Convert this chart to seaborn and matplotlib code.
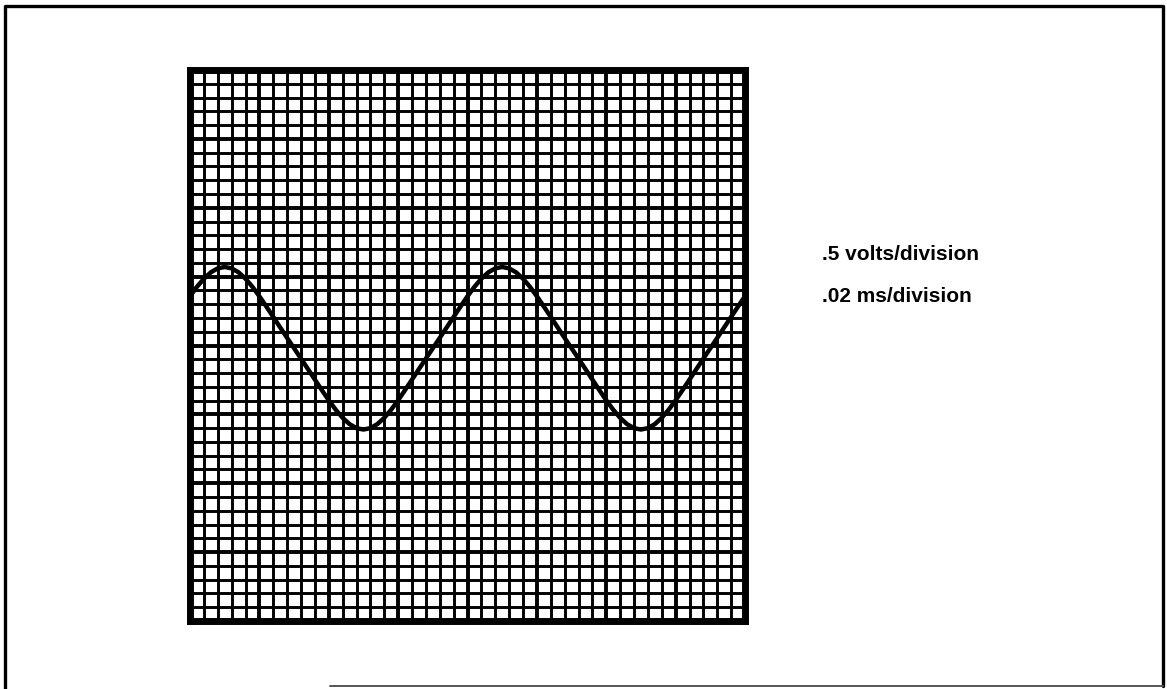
import matplotlib
matplotlib.use("Agg")
import matplotlib.pyplot as plt
import numpy as np
import pandas as pd
import seaborn as sns
from matplotlib.lines import Line2D

# Graticule: 8 x 8 major divisions, each split into 5 minor divisions
MAJOR_DIVS = 8
MINOR_PER_MAJOR = 5

# Trace samples (time and amplitude in major divisions, centre of screen = 0)
time_div = [
    0.0, 0.1, 0.2, 0.3, 0.4, 0.5, 0.6, 0.7, 0.8, 0.9,
    1.0, 1.1, 1.2, 1.3, 1.4, 1.5, 1.6, 1.7, 1.8, 1.9,
    2.0, 2.1, 2.2, 2.3, 2.4, 2.5, 2.6, 2.7, 2.8, 2.9,
    3.0, 3.1, 3.2, 3.3, 3.4, 3.5, 3.6, 3.7, 3.8, 3.9,
    4.0, 4.1, 4.2, 4.3, 4.4, 4.5, 4.6, 4.7, 4.8, 4.9,
    5.0, 5.1, 5.2, 5.3, 5.4, 5.5, 5.6, 5.7, 5.8, 5.9,
    6.0, 6.1, 6.2, 6.3, 6.4, 6.5, 6.6, 6.7, 6.8, 6.9,
    7.0, 7.1, 7.2, 7.3, 7.4, 7.5, 7.6, 7.7, 7.8, 7.9,
    8.0,
]
volts_div = [
    0.715, 0.852, 0.970, 1.062, 1.120, 1.140, 1.120, 1.062, 0.970, 0.852,
    0.715, 0.567, 0.415, 0.262, 0.110, -0.040, -0.190, -0.342, -0.495, -0.647,
    -0.795, -0.932, -1.050, -1.142, -1.200, -1.220, -1.200, -1.142, -1.050, -0.932,
    -0.795, -0.647, -0.495, -0.342, -0.190, -0.040, 0.110, 0.262, 0.415, 0.567,
    0.715, 0.852, 0.970, 1.062, 1.120, 1.140, 1.120, 1.062, 0.970, 0.852,
    0.715, 0.567, 0.415, 0.262, 0.110, -0.040, -0.190, -0.342, -0.495, -0.647,
    -0.795, -0.932, -1.050, -1.142, -1.200, -1.220, -1.200, -1.142, -1.050, -0.932,
    -0.795, -0.647, -0.495, -0.342, -0.190, -0.040, 0.110, 0.262, 0.415, 0.567,
    0.715,
]

scale_labels = [".5 volts/division", ".02 ms/division"]

sns.set_style("white")
plt.rcParams["font.family"] = ["Liberation Sans", "DejaVu Sans"]

W, H = 1167, 689
fig = plt.figure(figsize=(W / 100, H / 100), dpi=100)
fig.patch.set_facecolor("white")

# Page border: solid on three sides, faint along the bottom
def fig_line(xs, ys, **kw):
    fig.lines.append(Line2D([x / W for x in xs], [1 - y / H for y in ys],
                            transform=fig.transFigure, **kw))

fig_line([5, 5, 1163, 1163], [689, 6, 6, 686], color="black", linewidth=2.4)
fig_line([330, 1163], [686, 686], color="#555555", linewidth=1.4)

ax = fig.add_axes([190 / W, 68 / H, 555 / W, 551 / H])
half = MAJOR_DIVS / 2
ax.set_xlim(0, MAJOR_DIVS)
ax.set_ylim(-half, half)

step = 1 / MINOR_PER_MAJOR
minor = np.arange(0, MAJOR_DIVS + step / 2, step)
for i, v in enumerate(minor):
    lw = 2.8 if i % MINOR_PER_MAJOR == 0 else 2.1
    ax.axvline(v, color="black", linewidth=lw, zorder=1)
    ax.axhline(v - half, color="black", linewidth=lw, zorder=1)

trace = pd.DataFrame({"t": time_div, "v": volts_div})
sns.lineplot(data=trace, x="t", y="v", color="black", linewidth=3.2,
             ax=ax, zorder=3, sort=False)

ax.set_xticks([])
ax.set_yticks([])
ax.set_xlabel("")
ax.set_ylabel("")
for s in ax.spines.values():
    s.set_linewidth(5.0)
    s.set_color("black")
    s.set_zorder(4)

fig.text(822 / W, 1 - 254 / H, scale_labels[0], fontsize=15, fontweight="bold",
         color="black", va="center", ha="left")
fig.text(822 / W, 1 - 297 / H, scale_labels[1], fontsize=15, fontweight="bold",
         color="black", va="center", ha="left")

fig.savefig("out.png", dpi=100, facecolor="white")
